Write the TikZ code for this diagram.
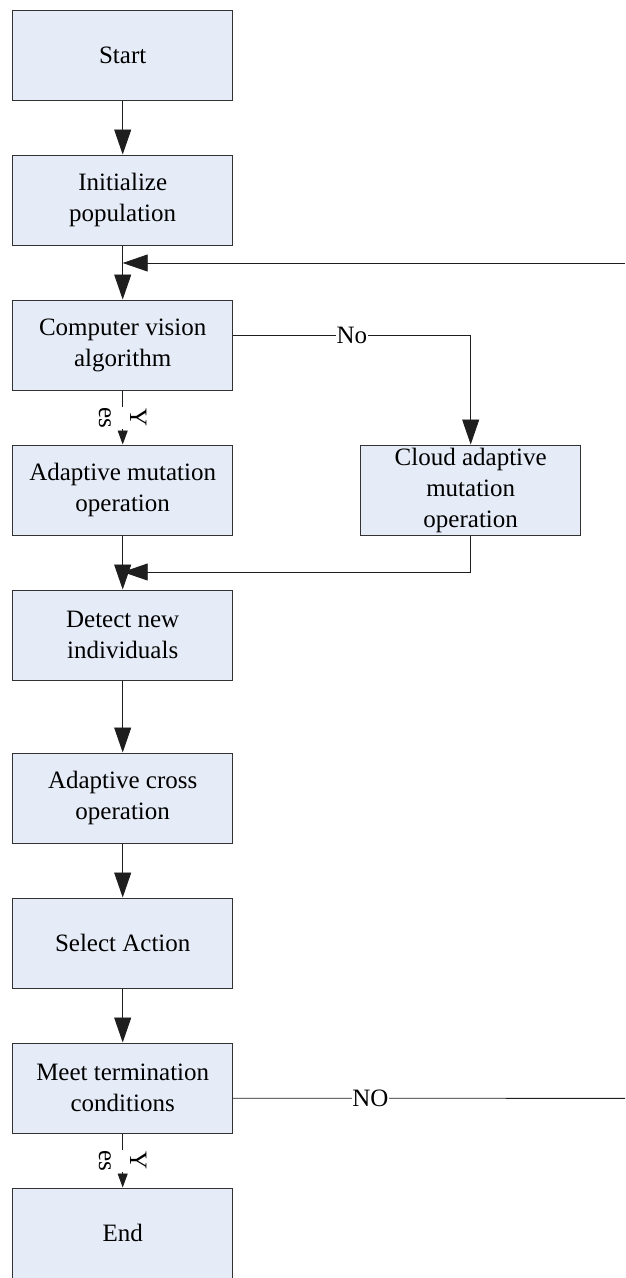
\documentclass[tikz,border=0pt]{standalone}
\usepackage{fontspec}
\setmainfont{Liberation Serif}
\usetikzlibrary{arrows.meta,calc}
\definecolor{boxfill}{RGB}{230,236,247}
\definecolor{boxline}{RGB}{50,50,50}
\definecolor{connline}{RGB}{30,30,30}
\begin{document}
\begin{tikzpicture}[x=1pt,y=-1pt,
  flowbox/.style={draw=boxline, fill=boxfill, line width=1pt, minimum width=220pt,
    minimum height=90.5pt, inner sep=1pt, align=center, font=\fontsize{25}{31}\selectfont},
  conn/.style={line width=0.9pt, draw=connline},
  bigtip/.style={-{Triangle[length=25pt,width=17pt]}},
  smalltip/.style={-{Triangle[length=14pt,width=10pt]}},
  lbl/.style={fill=white, inner sep=0.5pt, font=\fontsize{25}{31}\selectfont},
  yeslbl/.style={fill=white, inner sep=0.5pt, rotate=-90, align=center,
    font=\fontsize{25}{31}\selectfont}
]
\useasboundingbox (0,0) rectangle (625,1278);
\begin{scope}
\clip (0,0) rectangle (625,1278);
% boxes
\node[flowbox] (start)  at (122.7,55.25)   {Start};
\node[flowbox] (init)   at (122.7,200.25)  {Initialize\\population};
\node[flowbox] (cv)     at (122.7,345.25)  {Computer vision\\algorithm};
\node[flowbox] (adm)    at (122.7,490.25)  {Adaptive mutation\\operation};
\node[flowbox] (cloud)  at (470.7,490.25)  {Cloud adaptive\\mutation\\operation};
\node[flowbox] (detect) at (122.7,635.25)  {Detect new\\individuals};
\node[flowbox] (cross)  at (122.7,798.25)  {Adaptive cross\\operation};
\node[flowbox] (select) at (122.7,943.25)  {Select Action};
\node[flowbox] (meet)   at (122.7,1088.25) {Meet termination\\conditions};
\node[flowbox] (end)    at (122.7,1233.25) {End};

% yes labels
\node[yeslbl] (yes1) at (122.7,418)  {Y\\es};
\node[yeslbl] (yes2) at (122.7,1161) {Y\\es};

% helper coordinates
\coordinate (m1)  at (122.7,263);
\coordinate (fbR) at (625,263);
\coordinate (m2)  at (122.7,572);
\coordinate (noR) at (625,1098.3);

% connectors
\draw[conn,bigtip] (start) -- (init);
\draw[conn,bigtip] (init) -- (cv);
\draw[conn,bigtip] (fbR) -- (m1);
\draw[conn] (cv) -- (yes1);
\draw[conn,smalltip] (yes1) -- (adm);
\draw[conn,bigtip] ([yshift=9.5pt]cv.east) -| node[lbl,pos=0.25] {No} (cloud);
\draw[conn,bigtip] (adm) -- (detect);
\draw[conn,bigtip] (cloud.south) |- (m2);
\draw[conn,bigtip] (detect) -- (cross);
\draw[conn,bigtip] (cross) -- (select);
\draw[conn,bigtip] (select) -- (meet);
\draw[conn] ([yshift=-10pt]meet.east) -- node[lbl,pos=0.35] {NO} (noR);
\draw[conn] (meet) -- (yes2);
\draw[conn,smalltip] (yes2) -- (end);
\end{scope}
\end{tikzpicture}
\end{document}
